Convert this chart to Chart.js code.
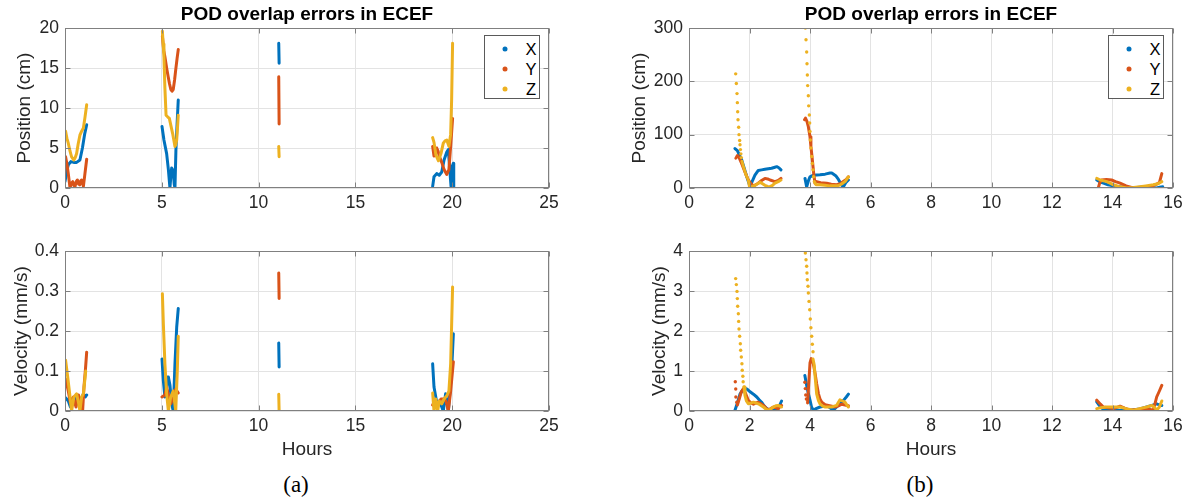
<!DOCTYPE html>
<html><head><meta charset="utf-8">
<script src="https://cdn.jsdelivr.net/npm/chart.js@4.4.1/dist/chart.umd.min.js"></script>
<style>
body{margin:0;background:#fff;width:1189px;height:501px;overflow:hidden;position:relative;font-family:"Liberation Sans",Arial,sans-serif;}
canvas{position:absolute;}
.ttl{position:absolute;font-weight:bold;font-size:19px;color:#000;white-space:nowrap;transform:translate(-50%,-50%);}
.cap{position:absolute;font-family:"Liberation Serif","Times New Roman",serif;font-size:23px;color:#000;transform:translate(-50%,-50%);}
.leg{position:absolute;width:56px;height:64px;border:1px solid #5a5a5a;background:#fff;box-sizing:border-box;}
.leg .d{position:absolute;width:5px;height:5px;border-radius:50%;transform:translate(-50%,-50%);}
.leg .t{position:absolute;font-size:16.5px;color:#000;transform:translate(-50%,-50%);line-height:1;}
</style></head><body>
<canvas id="aPos" width="594" height="225" style="left:0;top:0"></canvas>
<canvas id="aVel" width="594" height="240" style="left:0;top:225px"></canvas>
<canvas id="bPos" width="595" height="225" style="left:594px;top:0"></canvas>
<canvas id="bVel" width="595" height="240" style="left:594px;top:225px"></canvas>
<div class="ttl" style="left:307px;top:14px">POD overlap errors in ECEF</div>
<div class="ttl" style="left:931px;top:14px">POD overlap errors in ECEF</div>
<div class="cap" style="left:296px;top:485px">(a)</div>
<div class="cap" style="left:920px;top:485px">(b)</div>
<div id="legA" class="leg" style="left:484px;top:35px"></div>
<div id="legB" class="leg" style="left:1108px;top:35px"></div>
<script>
// ---- labels / ticks ----
const seriesNames = ['X', 'Y', 'Z'];
const seriesColors = ['#0072BD', '#D95319', '#EDB120'];
const hoursTicksA = [0, 5, 10, 15, 20, 25];
const hoursTicksB = [0, 2, 4, 6, 8, 10, 12, 14, 16];
const posTicksA = [0, 5, 10, 15, 20];
const velTicksA = [0, 0.1, 0.2, 0.3, 0.4];
const posTicksB = [0, 100, 200, 300];
const velTicksB = [0, 1, 2, 3, 4];

// ---- (a) position [hours, cm] ----
const posA_X = [[0.0,0.8],[0.1,2.2],[0.17,2.9],[0.3,3.3],[0.45,3.2],[0.6,3.2],[0.77,3.5],[0.9,5.0],[1.02,6.8],[1.12,7.9],null,
  [5.01,7.7],[5.11,6.0],[5.25,4.3],[5.34,2.3],[5.42,0],[5.47,1.5],[5.51,2.5],[5.56,2.3],[5.59,2.2],[5.64,0.5],[5.68,0],[5.73,4.8],[5.79,8.0],[5.85,11.0],null,
  [11.04,18.1],[11.06,15.6],null,
  [18.99,0.2],[19.06,1.4],[19.2,1.8],[19.33,1.6],[19.46,2.0],[19.58,3.5],[19.72,4.5],[19.8,4.8],[19.89,1.8],[19.94,0.2],[20.0,2.7],[20.06,3.1],[20.08,0]];
const posA_Y = [[0.03,3.9],[0.1,3.0],[0.17,1.8],[0.26,0],[0.33,0.6],[0.4,0.8],[0.46,0.3],[0.52,0.2],[0.58,0.8],[0.64,1.0],[0.7,0.5],[0.76,0.4],[0.81,0.9],[0.86,1.0],[0.95,0.2],[1.03,1.8],[1.12,3.6],null,
  [5.03,19.0],[5.1,17.2],[5.16,16.4],[5.25,15.0],[5.33,13.9],[5.4,13.0],[5.47,12.3],[5.53,12.1],[5.59,12.3],[5.66,13.5],[5.72,14.8],[5.79,16.2],[5.85,17.3],null,
  [11.04,13.9],[11.06,8.0],null,
  [18.99,5.2],[19.06,4.0],[19.13,4.6],[19.2,5.0],[19.27,4.6],[19.33,4.0],[19.46,3.2],[19.58,2.3],[19.72,1.7],[19.83,2.3],[19.92,5.2],[20.02,8.7]];
const posA_Z = [[0.03,7.1],[0.1,6.2],[0.17,5.6],[0.26,4.6],[0.34,3.9],[0.46,3.5],[0.53,3.8],[0.6,4.3],[0.68,5.5],[0.77,6.6],[0.86,7.1],[0.95,7.5],[1.03,8.8],[1.12,10.4],null,
  [5.03,19.6],[5.07,18.0],[5.11,16.4],[5.16,12.5],[5.22,9.1],[5.3,8.9],[5.39,8.7],[5.47,7.8],[5.56,6.8],[5.62,6.0],[5.68,5.2],[5.72,5.4],[5.77,6.0],[5.81,7.5],[5.85,9.1],null,
  [11.04,5.2],[11.06,3.9],null,
  [18.99,6.3],[19.06,5.7],[19.16,4.1],[19.29,3.4],[19.42,4.3],[19.54,5.6],[19.63,5.9],[19.72,6.0],[19.83,5.2],[19.92,6.7],[19.97,11.0],[20.02,18.1]];

// ---- (a) velocity [hours, mm/s] ----
const velA_X = [[0.03,0.033],[0.17,0.025],[0.28,0.01],[0.43,0.02],[0.57,0.035],[0.7,0.035],[0.81,0.025],[0.95,0.043],[1.05,0.035],[1.12,0.04],null,
  [5.01,0.13],[5.08,0.076],[5.16,0.035],[5.25,0.058],[5.3,0.085],[5.34,0.085],[5.42,0.065],[5.51,0.018],[5.59,0],[5.68,0.118],[5.77,0.21],[5.85,0.256],null,
  [11.04,0.17],[11.06,0.11],null,
  [18.99,0.118],[19.06,0.06],[19.2,0.022],[19.33,0.025],[19.46,0.01],[19.54,0],[19.66,0.043],[19.8,0],[19.89,0.052],[19.97,0.1],[20.06,0.193]];
const velA_Y = [[0.03,0.08],[0.17,0.05],[0.28,0.02],[0.36,0.03],[0.43,0.035],[0.57,0.01],[0.7,0.04],[0.81,0.01],[0.91,0],[0.98,0.06],[1.05,0.1],[1.12,0.147],null,
  [5.01,0.035],[5.16,0.04],[5.25,0.06],[5.37,0.035],[5.47,0.018],[5.59,0.035],[5.72,0.055],[5.85,0.045],null,
  [11.04,0.345],[11.06,0.281],null,
  [18.99,0.015],[19.1,0.025],[19.29,0.02],[19.42,0.03],[19.54,0.03],[19.68,0.025],[19.8,0],[19.92,0.05],[20.06,0.123]];
const velA_Z = [[0.03,0.127],[0.14,0.085],[0.26,0.035],[0.34,0],[0.46,0.035],[0.6,0.043],[0.7,0.02],[0.77,0],[0.86,0.035],[0.95,0.043],[1.07,0.1],null,
  [5.03,0.293],[5.08,0.218],[5.16,0.118],[5.25,0.043],[5.34,0],[5.46,0.035],[5.59,0.05],[5.72,0],[5.8,0.1],[5.85,0.187],null,
  [11.04,0.042],[11.06,0],null,
  [18.99,0.045],[19.06,0],[19.15,0.03],[19.25,0],[19.33,0.025],[19.46,0.018],[19.58,0.03],[19.72,0.038],[19.83,0.05],[19.92,0.118],[20.02,0.31]];

// ---- (b) position [hours, cm] ----
const posB_X = [[1.52,74],[1.6,70],[1.68,60],[1.74,53],[1.82,38],[1.91,21],[2.02,2.5],[2.1,14],[2.18,24],[2.29,33],[2.4,34],[2.51,35],[2.62,36],[2.73,37],[2.84,39],[2.9,40],[2.97,38],[3.04,34],null,
  [3.835,18],[3.89,2],[3.95,14],[4.0,21],[4.11,24],[4.33,25],[4.5,26],[4.66,28],[4.72,28],[4.85,23],[4.94,16],[5.05,5],[5.1,2],[5.18,10],[5.27,15],null,
  [13.48,15],[13.6,11],[13.7,9],[13.85,6],[14.03,4],[14.3,2],[14.58,0],[14.8,1],[15.02,2],[15.25,1],[15.46,0],[15.56,1.5],[15.66,2.5]];
const posB_Y = [[1.55,56],[1.6,61],[1.65,58],[1.74,46],[1.85,30],[1.96,15],[2.05,8],[2.13,4],[2.2,6],[2.29,9],[2.4,14],[2.51,18],[2.6,17],[2.68,15],[2.84,12],[2.95,14],[3.04,18],null,
  [3.82,128],[3.85,131],[3.9,125],[3.945,115],[4.0,96],[4.03,78],[4.077,53],[4.12,28],[4.165,9],[4.22,12],[4.35,10],[4.55,9],[4.7,7],[4.88,6],[5.0,8],[5.1,12],[5.2,16],[5.27,21],null,
  [13.53,0],[13.58,10],[13.64,15],[13.8,16],[13.97,15],[14.1,12],[14.25,9],[14.45,4],[14.69,0],[14.9,1],[15.13,2.5],[15.3,4],[15.42,6],[15.55,10],[15.63,27]];
const posB_Z = [[1.75,50],[1.8,40],[1.88,25],[1.96,15],[2.0,2.5],[2.08,3],[2.18,5],[2.27,8],[2.35,11],[2.43,8],[2.51,5],[2.6,3],[2.68,2.5],[2.76,5],[2.84,9],[2.95,12],[3.04,15],null,
  [4.14,12],[4.2,6],[4.33,6],[4.5,5],[4.66,4],[4.8,4],[4.9,4],[5.0,6],[5.08,9],[5.16,12],[5.22,17],[5.27,21],null,
  [13.48,18],[13.6,15],[13.81,12],[13.92,9],[14.03,6],[14.2,3],[14.47,0],[14.7,1],[14.91,2.5],[15.1,4],[15.35,6],[15.5,8],[15.63,12]];
const posB_Zdots = [[1.543,214],[1.565,196],[1.587,177],[1.598,160],[1.609,143],[1.62,128],[1.642,114],[1.653,100],[1.675,89],[1.686,81],[1.70,72],[1.715,64],[1.73,57],
  [3.846,300],[3.868,278],[3.89,255],[3.901,233],[3.912,212],[3.923,192],[3.945,173],[3.956,154],[3.978,137],[3.989,122],[4.0,106],[4.01,90],[4.03,75],[4.056,59],[4.077,46],[4.1,34],[4.12,21]];
const posB_Ydots = [];

// ---- (b) velocity [hours, mm/s] ----
const velB_X = [[1.52,0.02],[1.6,0.2],[1.69,0.43],[1.77,0.52],[1.85,0.57],[1.93,0.54],[2.02,0.48],[2.13,0.42],[2.24,0.35],[2.32,0.28],[2.40,0.22],[2.48,0.13],[2.57,0.06],[2.68,0.03],[2.79,0.02],[2.88,0.03],[2.95,0.06],[3.0,0.15],[3.06,0.25],null,
  [3.83,0.89],[3.9,0.6],[3.95,0.42],[4.0,0.27],[4.05,0.1],[4.11,0.02],[4.2,0.06],[4.33,0.1],[4.45,0.12],[4.55,0.14],[4.66,0.08],[4.77,0.02],[4.88,0.1],[4.99,0.18],[5.1,0.26],[5.2,0.35],[5.27,0.42],null,
  [13.48,0.23],[13.6,0.1],[13.7,0.04],[14.03,0.02],[14.58,0.02],[14.9,0.05],[15.13,0.1],[15.3,0.14],[15.46,0.18],[15.55,0.15],[15.63,0.14]];
const velB_Y = [[1.6,0.15],[1.66,0.3],[1.73,0.48],[1.8,0.56],[1.88,0.42],[1.96,0.27],[2.05,0.2],[2.13,0.17],[2.21,0.2],[2.29,0.22],[2.38,0.18],[2.46,0.14],[2.54,0.08],[2.62,0.03],[2.7,0.06],[2.79,0.1],[2.87,0.08],[2.95,0.06],[3.0,0.1],[3.06,0.14],null,
  [3.92,0.2],[3.96,0.7],[4.0,1.2],[4.04,1.31],[4.08,1.25],[4.11,1.18],[4.17,0.93],[4.22,0.68],[4.28,0.43],[4.33,0.3],[4.39,0.22],[4.5,0.16],[4.61,0.14],[4.72,0.12],[4.83,0.1],[4.94,0.13],[5.05,0.17],[5.16,0.15],[5.27,0.13],null,
  [13.48,0.27],[13.6,0.17],[13.7,0.1],[13.85,0.08],[14.03,0.06],[14.15,0.09],[14.25,0.12],[14.4,0.07],[14.58,0.02],[14.8,0.04],[15.13,0.06],[15.35,0.02],[15.46,0.35],[15.55,0.5],[15.63,0.64]];
const velB_Z = [[1.82,0.6],[1.85,0.39],[1.9,0.25],[1.96,0.18],[2.05,0.2],[2.13,0.22],[2.21,0.2],[2.29,0.18],[2.38,0.14],[2.46,0.1],[2.54,0.05],[2.62,0.02],[2.7,0.05],[2.79,0.1],[2.87,0.13],[2.95,0.14],[3.0,0.12],[3.06,0.1],null,
  [4.1,1.3],[4.14,1.15],[4.17,0.85],[4.22,0.43],[4.28,0.26],[4.33,0.18],[4.42,0.12],[4.5,0.1],[4.61,0.1],[4.72,0.1],[4.8,0.12],[4.88,0.14],[4.94,0.22],[4.99,0.28],[5.08,0.25],[5.16,0.22],[5.22,0.15],[5.27,0.1],null,
  [13.48,0.06],[13.6,0.08],[13.81,0.1],[14.03,0.1],[14.25,0.1],[14.45,0.06],[14.69,0.02],[14.9,0.06],[15.13,0.1],[15.3,0.14],[15.4,0.08],[15.46,0.02],[15.55,0.1],[15.63,0.25]];
const velB_Zdots = [[1.543,3.31],[1.565,3.16],[1.587,2.99],[1.598,2.81],[1.609,2.62],[1.631,2.43],[1.642,2.24],[1.653,2.05],[1.675,1.87],[1.697,1.68],[1.708,1.52],[1.73,1.35],[1.75,1.18],[1.76,1.02],[1.78,0.87],[1.79,0.73],[1.82,0.6],
  [3.846,3.95],[3.868,3.78],[3.89,3.62],[3.90,3.45],[3.91,3.28],[3.934,3.12],[3.945,2.95],[3.967,2.74],[3.99,2.53],[4.01,2.30],[4.03,2.08],[4.056,1.87],[4.077,1.67],[4.1,1.48]];
const velB_Ydots = [[1.53,0.73],[1.545,0.55],[1.55,0.35],[1.58,0.22],[3.83,0.72],[3.845,0.56],[3.86,0.4],[3.88,0.3]];

// ---- rendering ----
const FONT = '"Liberation Sans", Arial, Helvetica, sans-serif';
const TXT = '#262626';
const toPts = arr => arr.map(p => p ? {x: p[0], y: p[1]} : {x: null, y: null});

const boxPlugin = {
  id: 'matlabBox',
  afterDatasetsDraw(chart) {
    const {ctx, chartArea: a, scales: {x, y}} = chart;
    ctx.save();
    ctx.strokeStyle = '#808080';
    ctx.lineWidth = 1;
    ctx.beginPath();
    const L = Math.round(a.left) + 0.5, R = Math.round(a.right) - 0.5;
    const T = Math.round(a.top) + 0.5, B = Math.round(a.bottom) - 0.5;
    x.ticks.forEach(t => {
      const px = Math.round(x.getPixelForValue(t.value)) + 0.5;
      ctx.moveTo(px, B); ctx.lineTo(px, B - 5);
      ctx.moveTo(px, T); ctx.lineTo(px, T + 5);
    });
    y.ticks.forEach(t => {
      const py = Math.round(y.getPixelForValue(t.value)) + 0.5;
      ctx.moveTo(L, py); ctx.lineTo(L + 5, py);
      ctx.moveTo(R, py); ctx.lineTo(R - 5, py);
    });
    ctx.stroke();
    ctx.strokeRect(L, T, R - L, B - T);
    ctx.restore();
  }
};

function makeChart(id, o) {
  const ds = [];
  const lines = [o.X, o.Y, o.Z];
  lines.forEach((arr, i) => {
    ds.push({label: seriesNames[i], data: toPts(arr), borderColor: seriesColors[i], backgroundColor: seriesColors[i],
      borderWidth: 3, pointRadius: 0, pointHoverRadius: 0, showLine: true, spanGaps: false,
      borderJoinStyle: 'round', borderCapStyle: 'round', order: 6 - i});
  });
  if (o.Ydots && o.Ydots.length) ds.push({label: 'Y', data: toPts(o.Ydots), showLine: false, pointRadius: 1.7, pointBorderWidth: 0,
    backgroundColor: seriesColors[1], borderColor: seriesColors[1], order: 4.5});
  if (o.Zdots && o.Zdots.length) ds.push({label: 'Z', data: toPts(o.Zdots), showLine: false, pointRadius: 1.7, pointBorderWidth: 0,
    backgroundColor: seriesColors[2], borderColor: seriesColors[2], order: 2});
  new Chart(document.getElementById(id), {
    type: 'line',
    data: {datasets: ds},
    plugins: [boxPlugin],
    options: {
      responsive: false, animation: false, events: [],
      layout: {padding: {left: 0, top: o.padTop, right: o.padRight, bottom: 0}},
      plugins: {legend: {display: false}, tooltip: {enabled: false}},
      scales: {
        x: {type: 'linear', min: 0, max: o.xTicks[o.xTicks.length - 1],
          afterBuildTicks: s => { s.ticks = o.xTicks.map(v => ({value: v})); },
          afterFit: s => { s.height = o.xH; },
          grid: {color: '#e3e3e3', drawTicks: false}, border: {display: false},
          ticks: {padding: 5, color: TXT, font: {family: FONT, size: 17.5}, maxRotation: 0, autoSkip: false},
          title: {display: o.xTitle, text: 'Hours', color: TXT, font: {family: FONT, size: 19}, padding: {top: 0, bottom: 4}}
        },
        y: {type: 'linear', min: 0, max: o.yTicks[o.yTicks.length - 1],
          afterBuildTicks: s => { s.ticks = o.yTicks.map(v => ({value: v})); },
          afterFit: s => { s.width = o.yW; },
          grid: {color: '#e3e3e3', drawTicks: false}, border: {display: false},
          ticks: {padding: 6, color: TXT, font: {family: FONT, size: 17.5}, autoSkip: false},
          title: {display: true, text: o.yLabel, color: TXT, font: {family: FONT, size: 19}, padding: {top: o.yTitlePad, bottom: 0}}
        }
      }
    }
  });
}

makeChart('aPos', {X: posA_X, Y: posA_Y, Z: posA_Z, xTicks: hoursTicksA, yTicks: posTicksA, yLabel: 'Position (cm)',
  padTop: 28, padRight: 45, xH: 37, yW: 65, xTitle: false, yTitlePad: 13.6});
makeChart('aVel', {X: velA_X, Y: velA_Y, Z: velA_Z, xTicks: hoursTicksA, yTicks: velTicksA, yLabel: 'Velocity (mm/s)',
  padTop: 26, padRight: 45, xH: 54, yW: 65, xTitle: true, yTitlePad: 10.6});
makeChart('bPos', {X: posB_X, Y: posB_Y, Z: posB_Z, Ydots: posB_Ydots, Zdots: posB_Zdots, xTicks: hoursTicksB, yTicks: posTicksB, yLabel: 'Position (cm)',
  padTop: 28, padRight: 16, xH: 37, yW: 95, xTitle: false, yTitlePad: 34.6});
makeChart('bVel', {X: velB_X, Y: velB_Y, Z: velB_Z, Ydots: velB_Ydots, Zdots: velB_Zdots, xTicks: hoursTicksB, yTicks: velTicksB, yLabel: 'Velocity (mm/s)',
  padTop: 26, padRight: 16, xH: 54, yW: 95, xTitle: true, yTitlePad: 54.6});

// legends
['legA', 'legB'].forEach(id => {
  const el = document.getElementById(id);
  seriesNames.forEach((n, i) => {
    const d = document.createElement('div'); d.className = 'd';
    d.style.left = '20px'; d.style.top = (13 + 20 * i) + 'px'; d.style.background = seriesColors[i];
    const t = document.createElement('div'); t.className = 't';
    t.style.left = '46px'; t.style.top = (13 + 20 * i) + 'px'; t.textContent = n;
    el.appendChild(d); el.appendChild(t);
  });
});
</script>
</body></html>
